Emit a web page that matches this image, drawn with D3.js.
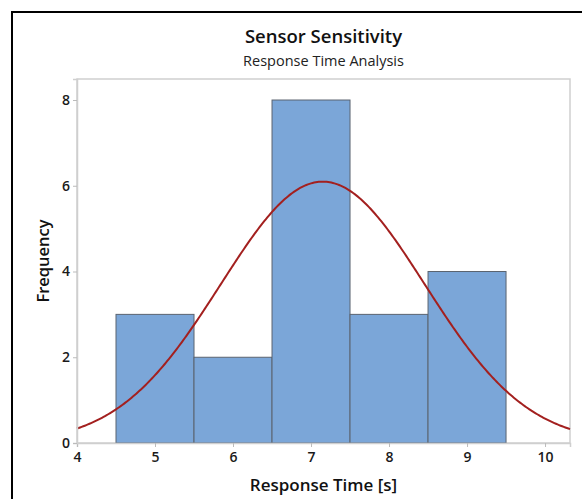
<!DOCTYPE html>
<html>
<head>
<meta charset="utf-8">
<script src="https://cdn.jsdelivr.net/npm/d3@7"></script>
<style>
  body { margin: 0; background: #fff; }
  svg { display: block; font-family: "Open Sans", "Noto Sans", sans-serif; }
</style>
</head>
<body>
<svg id="chart" width="582" height="499"></svg>
<script>
const binStart = [4.5, 5.5, 6.5, 7.5, 8.5];
const binEnd   = [5.5, 6.5, 7.5, 8.5, 9.5];
const counts   = [3, 2, 8, 3, 4];
const xTicks = [4, 5, 6, 7, 8, 9, 10];
const yTicks = [0, 2, 4, 6, 8];

const svg = d3.select("#chart");

const pLeft = 77, pRight = 570, pTop = 79, pBottom = 443;

const x = d3.scaleLinear().domain([4, 10.32]).range([pLeft, pRight]);
const y = d3.scaleLinear().domain([0, 8.49]).range([pBottom, pTop]);

// outer frame (runs past the window edge)
svg.append("rect")
   .attr("x", 12).attr("y", 12).attr("width", 700).attr("height", 700)
   .attr("fill", "none").attr("stroke", "#000").attr("stroke-width", 2);

// titles
svg.append("text").attr("x", 323.5).attr("y", 43)
   .attr("text-anchor", "middle").attr("font-size", 18.5).attr("font-weight", 600)
   .attr("fill", "#111").text("Sensor Sensitivity");
svg.append("text").attr("x", 323.5).attr("y", 66)
   .attr("text-anchor", "middle").attr("font-size", 14.5).attr("fill", "#222")
   .text("Response Time Analysis");

// plot frame
svg.append("rect")
   .attr("x", pLeft).attr("y", pTop).attr("width", pRight - pLeft).attr("height", pBottom - pTop)
   .attr("fill", "none").attr("stroke", "#cfcfcf").attr("stroke-width", 1.5);

// bars
const bars = binStart.map((s, i) => ({ s, e: binEnd[i], c: counts[i] }));
svg.selectAll("rect.bar").data(bars).join("rect")
   .attr("class", "bar")
   .attr("x", d => x(d.s)).attr("y", d => y(d.c))
   .attr("width", d => x(d.e) - x(d.s)).attr("height", d => y(0) - y(d.c))
   .attr("fill", "#7BA6D8").attr("stroke", "#5b6470").attr("stroke-width", 1);

// normal fit from the binned data
const n = d3.sum(counts);
const mids = bars.map(d => (d.s + d.e) / 2);
const mean = d3.sum(mids, (m, i) => m * counts[i]) / n;
const sd = Math.sqrt(d3.sum(mids, (m, i) => counts[i] * (m - mean) ** 2) / (n - 1));
const bw = binEnd[0] - binStart[0];
const xs = d3.range(4, 10.3201, 0.02);
const fit = xs.map(v => [v, n * bw * Math.exp(-0.5 * ((v - mean) / sd) ** 2) / (sd * Math.sqrt(2 * Math.PI))]);

svg.append("path").datum(fit)
   .attr("fill", "none").attr("stroke", "#A3201F").attr("stroke-width", 2)
   .attr("d", d3.line().x(d => x(d[0])).y(d => y(d[1])));

// axes
const xAxis = svg.append("g").attr("transform", `translate(0,${pBottom})`)
   .call(d3.axisBottom(x).tickValues(xTicks).tickSize(4).tickPadding(5).tickFormat(d3.format("d")));
const yAxis = svg.append("g").attr("transform", `translate(${pLeft},0)`)
   .call(d3.axisLeft(y).tickValues(yTicks).tickSize(4).tickPadding(3).tickFormat(d3.format("d")));
[xAxis, yAxis].forEach(g => {
  g.select(".domain").attr("stroke", "#cfcfcf").attr("stroke-width", 1.5);
  g.selectAll(".tick line").attr("stroke", "#bbb");
  g.selectAll(".tick text").attr("font-size", 14).attr("fill", "#1a1a1a")
   .attr("font-weight", 600).attr("font-family", "'Open Sans', sans-serif");
});

// axis titles
svg.append("text").attr("x", 323.5).attr("y", 491)
   .attr("text-anchor", "middle").attr("font-size", 17).attr("font-weight", 600)
   .attr("fill", "#111").text("Response Time [s]");
svg.append("text").attr("transform", "translate(49,261) rotate(-90)")
   .attr("text-anchor", "middle").attr("font-size", 16.5).attr("font-weight", 600)
   .attr("fill", "#111").text("Frequency");
</script>
</body>
</html>
